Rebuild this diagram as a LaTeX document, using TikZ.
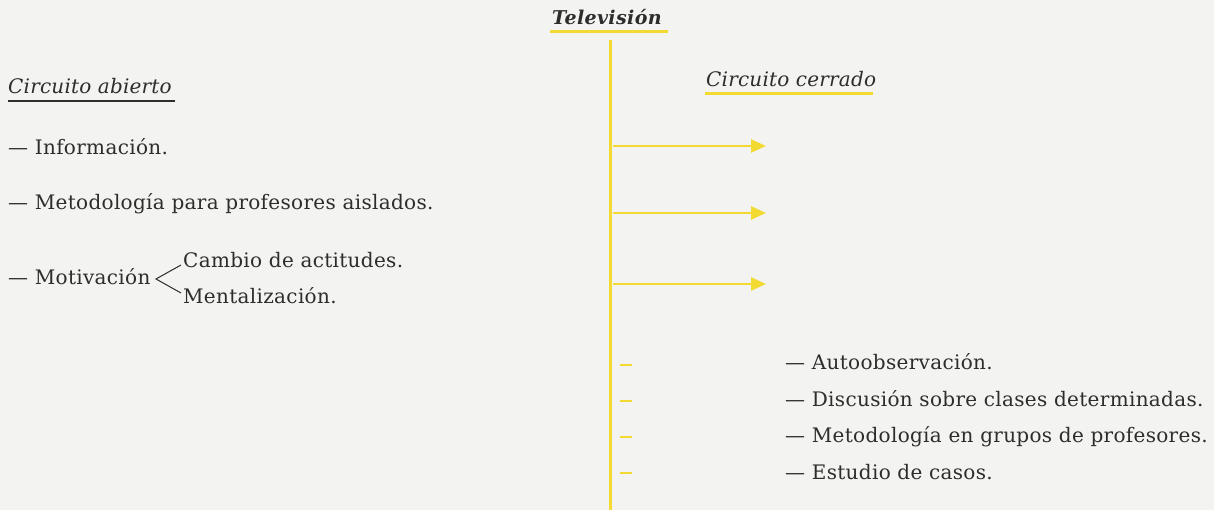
\documentclass[tikz,border=0pt]{standalone}
\usepackage{fontspec}
\setmainfont{DejaVu Serif}
\usetikzlibrary{arrows.meta}
\definecolor{bg}{RGB}{243,243,241}
\definecolor{ink}{RGB}{45,45,45}
\definecolor{tvyellow}{RGB}{242,218,50}
\tikzset{
  txt/.style={anchor=base west, inner sep=0pt, text=ink, font=\fontsize{20}{22}\selectfont\addfontfeature{LetterSpace=1.6}},
  head/.style={anchor=base west, inner sep=0pt, text=ink, font=\fontsize{20}{22}\selectfont\itshape\addfontfeature{LetterSpace=1}},
  yline/.style={draw=tvyellow, line width=3pt},
  yarrow/.style={draw=tvyellow, line width=2.5pt, -{Triangle[length=15pt,width=13pt]}},
}
\begin{document}
\begin{tikzpicture}[x=1pt,y=-1pt]
\fill[bg] (0,0) rectangle (1214,510);
\useasboundingbox (0,0) rectangle (1214,510);
% headings
\node[head, font=\fontsize{19}{22}\selectfont\bfseries\itshape\addfontfeature{LetterSpace=2}] (tv) at (552,25) {Televisión};
\coordinate (tvl) at (550,32);
\coordinate (tvr) at (668,32);
\draw[yline] (tvl) -- (tvr);
\coordinate (top) at (610,40);
\coordinate (bot) at (610,510);
\draw[yline] (top) -- (bot);

\node[head] (ca) at (8,94) {Circuito abierto};
\coordinate (cal) at (8,101);
\coordinate (car) at (175,101);
\draw[ink, line width=2.2pt] (cal) -- (car);

\node[head] (cc) at (706,87) {Circuito cerrado};
\coordinate (ccl) at (705,94);
\coordinate (ccr) at (873,94);
\draw[yline] (ccl) -- (ccr);

% arrows
\coordinate (a1s) at (613,146); \coordinate (a1e) at (766,146);
\coordinate (a2s) at (613,213); \coordinate (a2e) at (766,213);
\coordinate (a3s) at (613,284); \coordinate (a3e) at (766,284);
\draw[yarrow] (a1s) -- (a1e);
\draw[yarrow] (a2s) -- (a2e);
\draw[yarrow] (a3s) -- (a3e);

% left items
\node[txt] (i1) at (8,155) {— Información.};
\node[txt] (i2) at (8,210) {— Metodología para profesores aislados.};
\node[txt] (i3) at (8,285) {— Motivación};
\node[txt] (i3a) at (183,268) {Cambio de actitudes.};
\node[txt] (i3b) at (183,304) {Mentalización.};
\coordinate (br) at (156,279);
\coordinate (bra) at (181,265);
\coordinate (brb) at (181,293);
\draw[ink, line width=1pt] (bra) -- (br) -- (brb);

% ticks
\foreach \y/\n in {365/t1,401/t2,437/t3,473/t4}{
  \coordinate (\n l) at (620,\y); \coordinate (\n r) at (632,\y);
  \draw[draw=tvyellow, line width=2.5pt] (\n l) -- (\n r);
}

% right items
\node[txt] (r1) at (785,369) {— Autoobservación.};
\node[txt] (r2) at (785,406) {— Discusión sobre clases determinadas.};
\node[txt] (r3) at (785,442) {— Metodología en grupos de profesores.};
\node[txt] (r4) at (785,479) {— Estudio de casos.};
\end{tikzpicture}
\end{document}
